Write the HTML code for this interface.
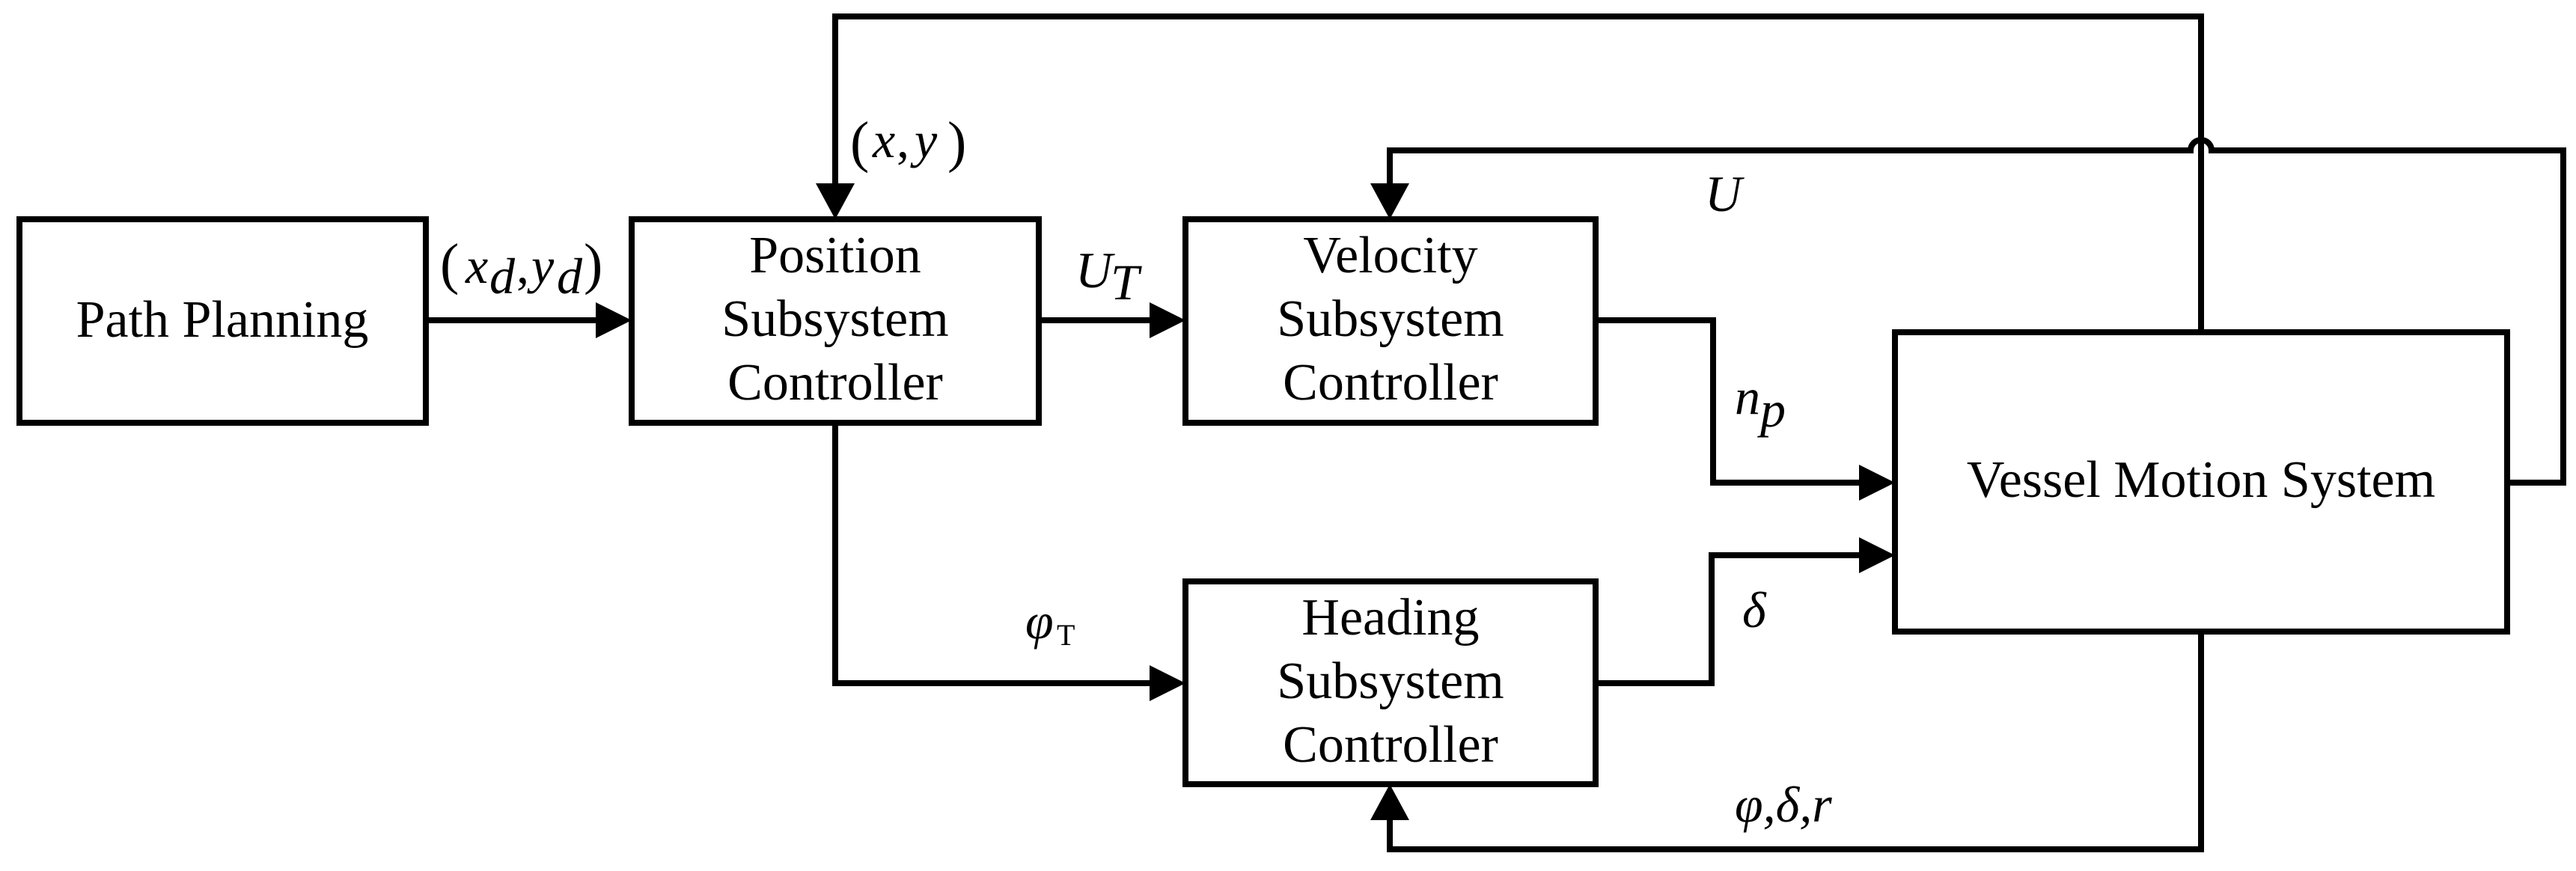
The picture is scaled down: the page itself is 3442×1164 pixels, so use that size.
<!DOCTYPE html>
<html><head><meta charset="utf-8"><style>
html,body{margin:0;padding:0;background:#fff}
svg{display:block}
svg text{font-family:"Liberation Serif","Times New Roman","DejaVu Serif",serif;fill:#000}
.b{font-size:70px;text-anchor:middle}
.i{font-style:italic;font-size:68px}
</style></head><body>
<svg width="3442" height="1164" viewBox="0 0 3442 1164" xmlns="http://www.w3.org/2000/svg" font-family="Liberation Serif, Times New Roman, DejaVu Serif, serif">
<g fill="none" stroke="#000" stroke-width="8">
<rect x="26" y="293" width="543" height="272"/>
<rect x="844" y="293" width="544" height="272"/>
<rect x="1584" y="293" width="548" height="272"/>
<rect x="1584" y="777" width="548" height="271"/>
<rect x="2532" y="444" width="818" height="400"/>
<path d="M569 428 H800"/>
<path d="M1388 428 H1540"/>
<path d="M1116 565 V913 H1540"/>
<path d="M2941 444 V22 H1116 V250"/>
<path d="M3350 645 H3425 V201 H2955 A14 14 0 0 0 2927 201 H1857 V250"/>
<path d="M2132 428 H2289 V645 H2488"/>
<path d="M2132 913 H2287 V742 H2488"/>
<path d="M2941 844 V1135 H1857 V1092"/>
</g>
<g fill="#000">
<polygon points="844,428 796,404 796,452"/>
<polygon points="1584,428 1536,404 1536,452"/>
<polygon points="1584,913 1536,889 1536,937"/>
<polygon points="2532,645 2484,621 2484,669"/>
<polygon points="2532,742 2484,718 2484,766"/>
<polygon points="1116,293 1090,245 1142,245"/>
<polygon points="1857,293 1831,245 1883,245"/>
<polygon points="1857,1048 1831,1096 1883,1096"/>
</g>
<text class="b" x="297" y="450">Path Planning</text>
<text class="b" x="1116" y="364">Position</text>
<text class="b" x="1116" y="449">Subsystem</text>
<text class="b" x="1116" y="534">Controller</text>
<text class="b" x="1858" y="364">Velocity</text>
<text class="b" x="1858" y="449">Subsystem</text>
<text class="b" x="1858" y="534">Controller</text>
<text class="b" x="1858" y="848">Heading</text>
<text class="b" x="1858" y="933">Subsystem</text>
<text class="b" x="1858" y="1018">Controller</text>
<text class="b" x="2941" y="664">Vessel Motion System</text>
<text x="588" y="378" font-size="76">(</text>
<text class="i" x="622" y="378">x</text><text class="i" x="654" y="392" font-size="40">d</text>
<text x="690" y="378" font-size="68">,</text>
<text class="i" x="710" y="378">y</text><text class="i" x="744" y="392" font-size="40">d</text>
<text x="780" y="378" font-size="76">)</text>
<text x="1136" y="215" font-size="76">(</text>
<text class="i" x="1166" y="210">x</text><text x="1198" y="210" font-size="68">,</text>
<text class="i" x="1222" y="210">y</text>
<text x="1266" y="215" font-size="76">)</text>
<text class="i" x="1437" y="384">U</text><text class="i" x="1484" y="400" font-size="40">T</text>
<text class="i" x="1370" y="853">φ</text><text x="1412" y="862" font-size="40">T</text>
<text class="i" x="2278" y="282" font-size="80">U</text>
<text class="i" x="2318" y="553">n</text><text class="i" x="2352" y="570" font-size="40">p</text>
<text class="i" x="2328" y="838">δ</text>
<text class="i" x="2318" y="1098">φ,δ,r</text>
</svg>
</body></html>
